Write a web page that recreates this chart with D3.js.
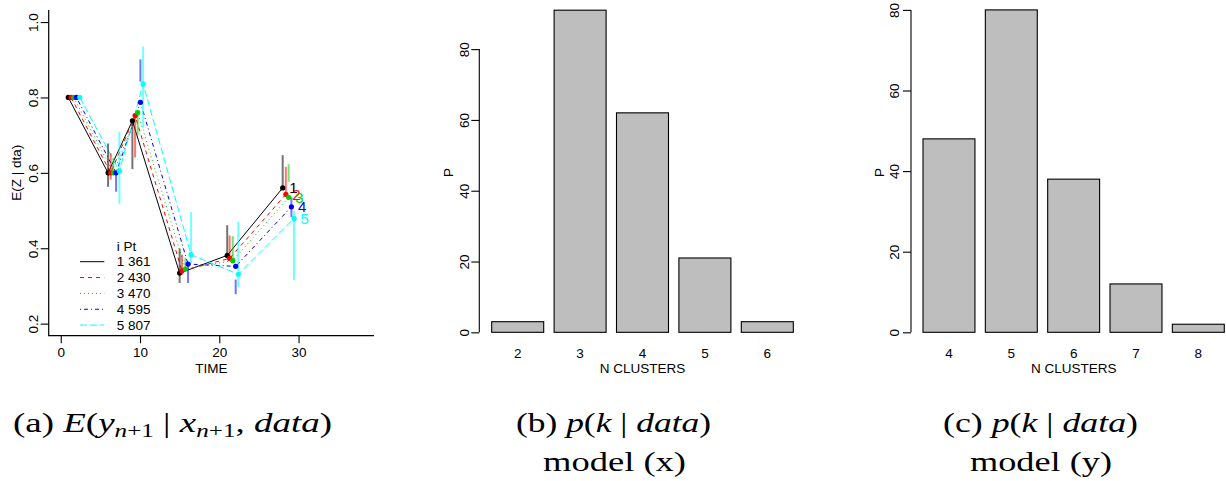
<!DOCTYPE html>
<html><head><meta charset="utf-8">
<script src="https://cdn.jsdelivr.net/npm/d3@7"></script>
<style>
body{margin:0;background:#fff}
svg{display:block;background:#fff}
.r text{font-family:"Liberation Sans",Arial,sans-serif}
.cap{font-family:"Liberation Serif","Times New Roman",serif}
</style>
</head><body>
<svg id="c" width="1226" height="481"></svg>
<script>
// ---------- Panel (a) data ----------
const seriesIds = [1, 2, 3, 4, 5];
const seriesPt = [361, 430, 470, 595, 807];
const time1 = [0.95, 5.97, 9.04, 15.0, 21.0, 28.0];
const time2 = [1.30, 6.30, 9.38, 15.30, 21.30, 28.40];
const time3 = [1.64, 6.64, 9.71, 15.72, 21.70, 28.75];
const time4 = [1.98, 6.98, 10.05, 16.06, 22.07, 29.10];
const time5 = [2.40, 7.40, 10.39, 16.44, 22.40, 29.43];
const value1 = [0.800, 0.600, 0.738, 0.334, 0.381, 0.560];
const value2 = [0.800, 0.600, 0.752, 0.340, 0.373, 0.543];
const value3 = [0.800, 0.600, 0.760, 0.345, 0.367, 0.535];
const value4 = [0.800, 0.600, 0.787, 0.358, 0.352, 0.510];
const value5 = [0.800, 0.605, 0.836, 0.383, 0.331, 0.479];
const lo1 = [null, 0.563, 0.610, 0.308, 0.381, 0.560];
const hi1 = [null, 0.678, 0.738, 0.399, 0.461, 0.647];
const lo2 = [null, 0.582, 0.641, 0.330, 0.375, 0.543];
const hi2 = [null, 0.652, 0.752, 0.383, 0.434, 0.616];
const lo3 = [null, 0.594, 0.700, 0.345, 0.368, 0.576];
const hi3 = [null, 0.640, 0.762, 0.375, 0.432, 0.623];
const lo4 = [null, 0.550, 0.842, 0.308, 0.278, 0.483];
const hi4 = [null, 0.602, 0.901, 0.359, 0.317, 0.535];
const lo5 = [null, 0.518, 0.720, 0.359, 0.297, 0.315];
const hi5 = [null, 0.709, 0.935, 0.496, 0.470, 0.499];
const xTicksA = [0, 10, 20, 30];
const yTicksA = [0.2, 0.4, 0.6, 0.8, 1.0];

// ---------- Panel (b) / (c) data ----------
const clustersB = ["2", "3", "4", "5", "6"];
const probB = [3, 91, 62, 21, 3];
const clustersC = ["4", "5", "6", "7", "8"];
const probC = [48, 80, 38, 12, 2];
const yTicksBar = [0, 20, 40, 60, 80];

// ---------- styles ----------
const seriesColors = ["#000000", "#FF0000", "#00CD00", "#0000FF", "#00FFFF"];
const seriesDash = [null, "4,4", "1,3", "1,3,4,3", "7,3"];

const svg = d3.select("#c");
svg.append("rect").attr("width",1226).attr("height",481).attr("fill","#fff");
const FS = 13.5;

function ext(lo, hi){ const d=(hi-lo)*0.04; return [lo-d, hi+d]; }

// ================= Panel (a) =================
const gA = svg.append("g").attr("class","r");
const A = {l:48.7, r:374, t:10, b:335.7};
const xA = d3.scaleLinear().domain(ext(0,38)).range([A.l, A.r]);
const yA = d3.scaleLinear().domain(ext(0.2,1.0)).range([A.b, A.t]);

gA.append("path").attr("d", `M${A.l},${A.t}V${A.b}H${A.r}`).attr("fill","none").attr("stroke","#000").attr("stroke-width",1.2);

const axYA = gA.append("g").attr("transform",`translate(${A.l},0)`)
  .call(d3.axisLeft(yA).tickValues(yTicksA).tickFormat(d3.format(".1f")).tickSize(8).tickSizeOuter(0));
axYA.attr("font-family",null);
axYA.select(".domain").remove();
axYA.selectAll("line").attr("stroke-width",1.1);
axYA.selectAll("text").attr("x",null).attr("dy",null).attr("text-anchor","middle")
  .attr("transform",`translate(${37.5-A.l},0) rotate(-90)`).attr("font-size",FS).attr("fill","#000");

const axXA = gA.append("g").attr("transform",`translate(0,${A.b})`)
  .call(d3.axisBottom(xA).tickValues(xTicksA).tickFormat(d3.format("d")).tickSize(7.5).tickSizeOuter(0));
axXA.attr("font-family",null);
axXA.select(".domain").remove();
axXA.selectAll("line").attr("stroke-width",1.1);
axXA.selectAll("text").attr("y",null).attr("dy",null).attr("transform",`translate(0,${357.3-A.b})`).attr("font-size",FS).attr("fill","#000");

gA.append("text").attr("x",(A.l+A.r)/2).attr("y",373.3).attr("text-anchor","middle").attr("font-size",FS).text("TIME");
gA.append("text").attr("transform",`translate(21,${(A.t+A.b)/2}) rotate(-90)`).attr("text-anchor","middle").attr("font-size",FS).text("E(Z | dta)");

const series = [
  {t:time1, v:value1, lo:lo1, hi:hi1},
  {t:time2, v:value2, lo:lo2, hi:hi2},
  {t:time3, v:value3, lo:lo3, hi:hi3},
  {t:time4, v:value4, lo:lo4, hi:hi4},
  {t:time5, v:value5, lo:lo5, hi:hi5}
].map((s,k)=>({...s, id:seriesIds[k], pt:seriesPt[k], color:seriesColors[k], dash:seriesDash[k],
  pts: s.t.map((t,j)=>({t, v:s.v[j], lo:s.lo[j], hi:s.hi[j]}))}));

const line = d3.line().x(d=>xA(d.t)).y(d=>yA(d.v));
series.forEach(s=>{
  gA.append("path").attr("d", line(s.pts)).attr("fill","none").attr("stroke",s.color)
    .attr("stroke-width",1).attr("stroke-dasharray",s.dash);
});
series.forEach(s=>{
  gA.selectAll(null).data(s.pts.filter(d=>d.lo!==null)).enter().append("line")
    .attr("x1",d=>xA(d.t)).attr("x2",d=>xA(d.t)).attr("y1",d=>yA(d.lo)).attr("y2",d=>yA(d.hi))
    .attr("stroke",s.color).attr("stroke-width",2).attr("stroke-opacity",0.55);
});
series.forEach(s=>{
  gA.selectAll(null).data(s.pts).enter().append("circle")
    .attr("cx",d=>xA(d.t)).attr("cy",d=>yA(d.v)).attr("r",2.6).attr("fill",s.color);
});
series.forEach(s=>{
  const d = s.pts[s.pts.length-1];
  gA.append("text").attr("x",xA(d.t)+6.5).attr("y",yA(d.v)+5.5).attr("font-size",15).attr("fill",s.color).text(s.id);
});

// legend
const legX0 = 80, legX1 = 104.3, legTX = 116.7, legY0 = 261.7, legDY = 15.85;
gA.append("text").attr("x",legTX).attr("y",legY0-legDY+4.7).attr("font-size",FS).text("i Pt");
series.forEach((s,k)=>{
  const yy = legY0 + k*legDY;
  gA.append("line").attr("x1",legX0).attr("x2",legX1).attr("y1",yy).attr("y2",yy)
    .attr("stroke",s.color).attr("stroke-width",1).attr("stroke-dasharray",s.dash);
  gA.append("text").attr("x",legTX).attr("y",yy+4.7).attr("font-size",FS).text(`${s.id} ${s.pt}`);
});

// ================= Bar panels =================
function barPanel(cats, vals, cfg){
  const g = svg.append("g").attr("class","r");
  const x = d3.scaleBand().domain(cats).range([cfg.b0, cfg.b1]).paddingInner(1/6).paddingOuter(0);
  const y = d3.scaleLinear().domain(ext(0, d3.max(vals))).range([345.2, cfg.top]);
  g.selectAll(null).data(cats).enter().append("rect")
    .attr("x",d=>x(d)).attr("width",x.bandwidth())
    .attr("y",(d,i)=>y(vals[i])).attr("height",(d,i)=>y(0)-y(vals[i]))
    .attr("fill","#BEBEBE").attr("stroke","#000").attr("stroke-width",1.1);
  const ay = g.append("g").attr("transform",`translate(${cfg.ax},0)`)
    .call(d3.axisLeft(y).tickValues(yTicksBar).tickFormat(d3.format("d")).tickSize(8).tickSizeOuter(0));
  ay.attr("font-family",null);
  ay.select(".domain").attr("d",`M0,${y(0)}V${y(80)}`).attr("stroke-width",1.1);
  ay.selectAll("line").attr("stroke-width",1.1);
  ay.selectAll("text").attr("x",null).attr("dy",null).attr("text-anchor","middle")
    .attr("transform",`translate(${cfg.tickBase-cfg.ax},0) rotate(-90)`).attr("font-size",FS).attr("fill","#000");
  g.selectAll(null).data(cats).enter().append("text")
    .attr("x",d=>x(d)+x.bandwidth()/2).attr("y",357.7).attr("text-anchor","middle").attr("font-size",FS).text(d=>d);
  g.append("text").attr("x",(cfg.b0+cfg.b1)/2).attr("y",373.3).attr("text-anchor","middle").attr("font-size",FS).text("N CLUSTERS");
  g.append("text").attr("transform",`translate(${cfg.pBase},172.5) rotate(-90)`).attr("text-anchor","middle").attr("font-size",FS).text("P");
}
barPanel(clustersB, probB, {b0:491.7, b1:793.3, ax:479.3, top:-2.7, tickBase:469, pBase:453.3});
barPanel(clustersC, probC, {b0:923, b1:1224.3, ax:911, top:-3, tickBase:899.3, pBase:884});

// ================= Captions =================
function caption(x, y, parts, len){
  const t = svg.append("text").attr("class","cap").attr("x",x).attr("y",y).attr("font-size",28).attr("text-anchor","middle");
  parts.forEach(p=>{
    const ts = t.append("tspan").text(p[0]);
    if(p[1]==="i") ts.attr("font-style","italic");
    if(p[2]==="sub") ts.attr("font-size",19).attr("dy",5);
    if(p[2]==="subc") ts.attr("font-size",19);
    if(p[2]==="up") ts.attr("dy",-5);
  });
  if(len) t.attr("textLength",len).attr("lengthAdjust","spacingAndGlyphs");
}
caption(172.5, 432, [["(a) "],["E","i"],["("],["y","i"],["n","i","sub"],["+1","","subc"],[" | ","","up"],["x","i"],["n","i","sub"],["+1","","subc"],[", ","","up"],["data","i"],[")"]], 319);
caption(613.5, 432, [["(b) "],["p","i"],["("],["k","i"],[" | "],["data","i"],[")"]], 195);
caption(614.5, 471, [["model (x)"]], 143);
caption(1040.5, 432, [["(c) "],["p","i"],["("],["k","i"],[" | "],["data","i"],[")"]], 195);
caption(1041, 471, [["model (y)"]], 142);
</script>
</body></html>
